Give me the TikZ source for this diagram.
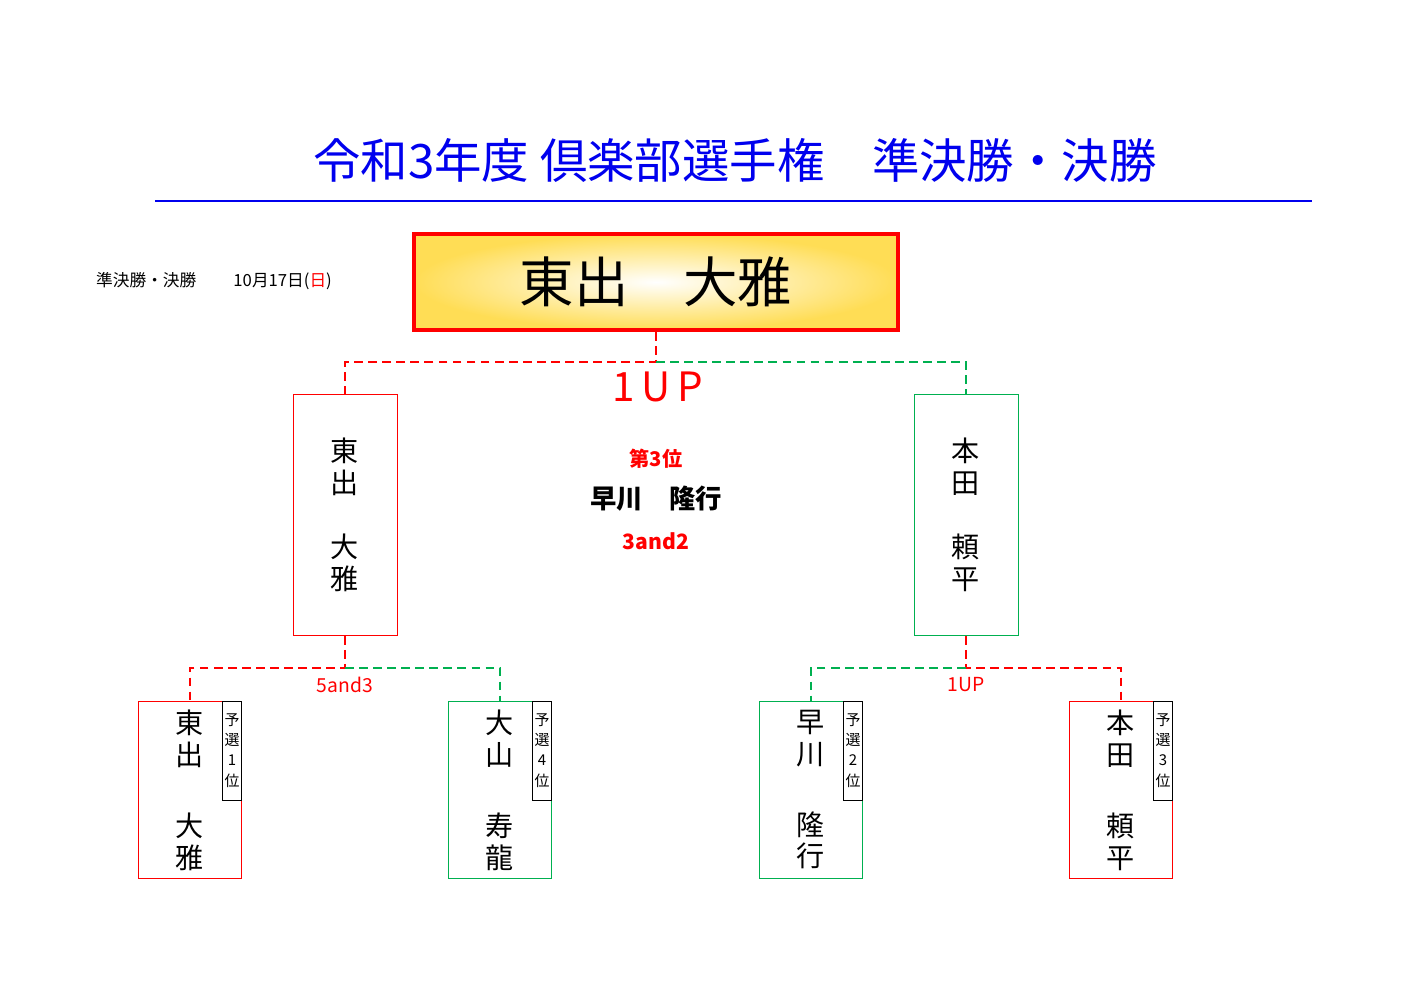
\documentclass[tikz,border=0pt]{standalone}
\usepackage{fontspec}
\setmainfont{Noto Sans CJK JP}
\usetikzlibrary{positioning}
\definecolor{winred}{HTML}{FF0000}
\definecolor{losegreen}{HTML}{00B050}
\definecolor{titleblue}{HTML}{0000EE}
\definecolor{gold}{HTML}{FFDD55}
\tikzset{
  semibox/.style={draw, minimum width=104*0.02cm, minimum height=241*0.02cm, inner sep=0pt, font=\fontsize{16}{18.5}\selectfont, align=center},
  qualbox/.style={draw, minimum width=103*0.02cm, minimum height=177*0.02cm, inner sep=0pt},
  rankbox/.style={draw=black, fill=white, minimum width=19*0.02cm, minimum height=99*0.02cm, inner sep=0pt, font=\fontsize{8.5}{11.5}\selectfont, align=center},
  redline/.style={winred, dashed, thick, dash pattern=on 5pt off 3pt},
  greenline/.style={losegreen, dashed, thick, dash pattern=on 5pt off 3pt},
  score/.style={winred, font=\fontsize{11}{13}\selectfont}
}
\begin{document}
\begin{tikzpicture}[x=0.02cm, y=-0.02cm]
\useasboundingbox (0,0) rectangle (1415,1000);
% title
\node[titleblue, font=\fontsize{27}{30}\selectfont] (title) at (735,160) {令和3年度 倶楽部選手権　準決勝・決勝};
\draw[titleblue, thick] (155,201) -- (1312,201);
\node[anchor=west, font=\fontsize{9.5}{11}\selectfont] (info) at (90,281) {準決勝・決勝　　\ 10月17日(\textcolor{winred}{日})};
% champion
\shade[inner color=white, outer color=gold] (414,234) rectangle (898,330);
\node[draw=winred, line width=2pt, minimum width=484*0.02cm, minimum height=96*0.02cm, font=\fontsize{31}{36}\selectfont] (champ) at (656,282) {東出　大雅};
% semifinal boxes
\node[semibox, draw=winred] (semiL) at (345,515) {東\\出\\[1.1em]大\\雅};
\node[semibox, draw=losegreen] (semiR) at (966,515) {本\\田\\[1.1em]頼\\平};
\coordinate (finJ) at (656,362);
\draw[redline] (champ.south) -- (finJ) -| (semiL.north);
\draw[greenline] (finJ) -| (semiR.north);
\node[winred, font=\fontsize{23}{26}\selectfont] (finscore) at (658,387) {1\,U\,P};
% third place
\node[winred, font=\fontsize{11.5}{13}\bfseries] (third) at (656,459) {第3位};
\node[font=\fontsize{15}{17}\bfseries] (thirdname) at (656,499) {早川　隆行};
\node[winred, font=\fontsize{12}{13}\bfseries] (thirdscore) at (656,541) {3and2};
% qualifiers
\foreach \nm/\x/\col/\txt/\rk in {qA/190/winred/{東\\出\\[1.4em]大\\雅}/1,
                                  qB/500/losegreen/{大\\山\\[1.4em]寿\\龍}/4,
                                  qC/811/losegreen/{早\\川\\[1.4em]隆\\行}/2,
                                  qD/1121/winred/{本\\田\\[1.4em]頼\\平}/3}{
  \node[qualbox, draw=\col] (\nm) at (\x,789.5) {};
  \node[below=2pt of \nm.north, font=\fontsize{16}{18}\selectfont, align=center] (\nm name) {\txt};
  \node[rankbox, anchor=north east] (\nm rank) at (\nm.north east) {予\\選\\\rk\\位};
}
\coordinate (semiJL) at (345,668);
\coordinate (semiJR) at (966,668);
\draw[redline] (semiL.south) -- (semiJL) -| (qA.north);
\draw[greenline] (semiJL) -| (qB.north);
\draw[redline] (semiR.south) -- (semiJR) -| (qD.north);
\draw[greenline] (semiJR) -| (qC.north);
\node[score] (scoreL) at (345,685) {5and3};
\node[score] (scoreR) at (966,685) {1UP};
\end{tikzpicture}
\end{document}
